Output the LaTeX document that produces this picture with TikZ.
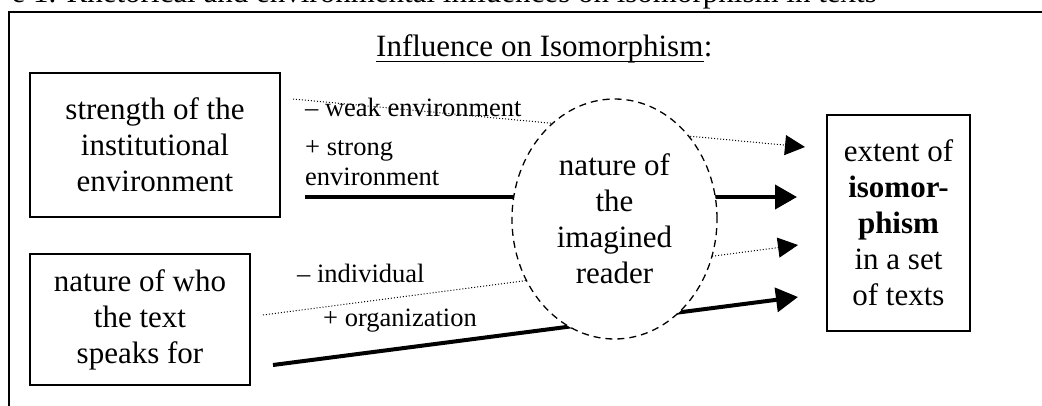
\documentclass[tikz,border=0pt]{standalone}
\usepackage{fontspec}
\setmainfont{Liberation Serif}
\usetikzlibrary{arrows.meta,shapes.geometric}
\begin{document}
\begin{tikzpicture}[x=1pt,y=-1pt,
  box/.style={draw,line width=1.5pt,inner sep=0pt,align=center,font=\fontsize{31}{36}\selectfont},
  lbl/.style={inner sep=0pt,anchor=base west,align=left,font=\fontsize{26.5}{30}\selectfont},
  dotarrow/.style={line width=1pt,dash pattern=on 1pt off 2pt,-{Triangle[length=20pt,width=20pt]}},
  thickarrow/.style={line width=4pt,-{Triangle[length=22pt,width=24pt]}}]
\useasboundingbox (0,0) rectangle (1042,406);
\clip (0,0) rectangle (1042,406);
% caption, cut off at the top
\node[inner sep=0pt,anchor=base east,font=\fontsize{31}{36}\selectfont] (cap) at (877,2.5)
  {e 1. Rhetorical and environmental influences on isomorphism in texts};
% outer frame
\coordinate (fb) at (9,420);
\coordinate (fc) at (9,12);
\coordinate (fr) at (1050,12);
\draw[line width=2.5pt] (fb) -- (fc) -- (fr);
% title
\node[inner sep=0pt,anchor=base west,font=\fontsize{31}{36}\selectfont] (title) at (376,57) {Influence on Isomorphism};
\node[inner sep=0pt,anchor=base west,font=\fontsize{31}{36}\selectfont] (colon) at (title.base east) {:};
\draw[line width=1.8pt] ([yshift=-4.5pt]title.base west) -- ([yshift=-4.5pt]title.base east);
% boxes
\node[box,minimum width=250pt,minimum height=144pt] (inst) at (155,145) {strength of the\\institutional\\environment};
\node[box,minimum width=220pt,minimum height=131pt] (who) at (140,319.5) {nature of who\\the text\\speaks for};
\node[box,minimum width=143pt,minimum height=216pt] (ext) at (898.5,223) {extent of\\\textbf{isomor-}\\\textbf{phism}\\in a set\\of texts};
% connector end points
\coordinate (s1) at (293,99);
\coordinate (t1) at (805,147);
\coordinate (s2) at (305,197);
\coordinate (t2) at (797,197);
\coordinate (s3) at (263,315);
\coordinate (t3) at (798,245);
\coordinate (s4) at (273,365);
\coordinate (t4) at (798,297);
\draw[dotarrow] (s1) -- (t1);
\draw[thickarrow] (s2) -- (t2);
\draw[dotarrow] (s3) -- (t3);
\draw[thickarrow] (s4) -- (t4);
% labels
\node[lbl] (weak) at (305,117) {-- weak environment};
\node[lbl] (strong) at (305,186) {+ strong\\environment};
\node[lbl] (indiv) at (297,283) {-- individual};
\node[lbl] (org) at (323,326) {+ organization};
% imagined reader
\node[ellipse,draw,fill=white,line width=1.3pt,dash pattern=on 7pt off 5pt,
  minimum width=205pt,minimum height=240pt,inner sep=0pt,align=center,
  font=\fontsize{31}{36}\selectfont] (reader) at (614.5,219) {nature of\\the\\imagined\\reader};
\end{tikzpicture}
\end{document}
